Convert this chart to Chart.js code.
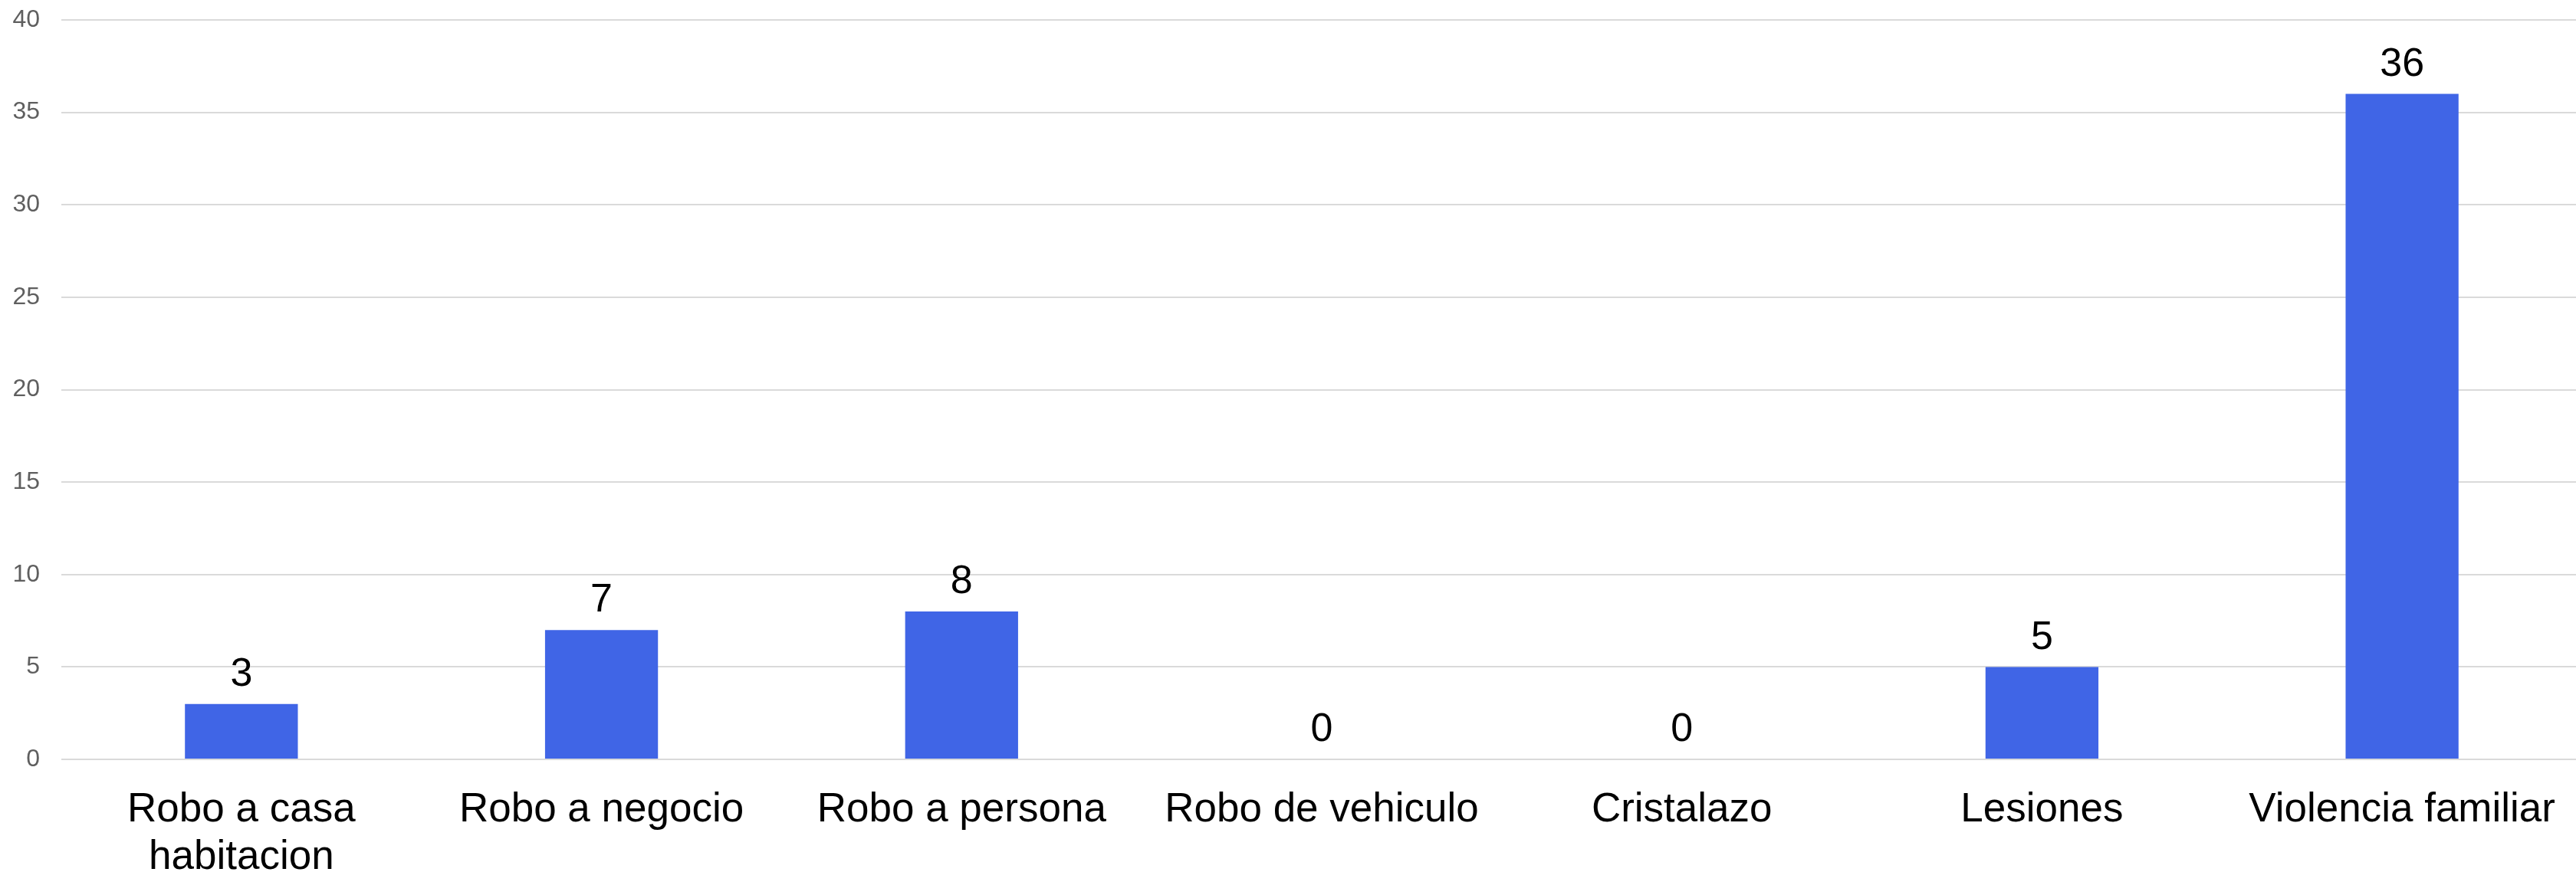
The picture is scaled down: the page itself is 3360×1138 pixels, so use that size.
<!DOCTYPE html>
<html>
<head>
<meta charset="utf-8">
<script src="https://cdn.jsdelivr.net/npm/chart.js@4"></script>
<style>
    html, body { margin: 0; padding: 0; background: #fff; overflow: hidden; }
    /* the original plot runs a few px past the right edge */
    #wrap { width: 3368px; height: 1138px; }
</style>
</head>
<body>
<div id="wrap"><canvas id="crimeChart"></canvas></div>
<script>
// Data
const categories = [
    ['Robo a casa', 'habitacion'],
    'Robo a negocio',
    'Robo a persona',
    'Robo de vehiculo',
    'Cristalazo',
    'Lesiones',
    'Violencia familiar'
];
const counts = [3, 7, 8, 0, 0, 5, 36];
const yTicks = [0, 5, 10, 15, 20, 25, 30, 35, 40];

const barColor = '#4065e6';
const fontFamily = "'Liberation Sans', Arial, sans-serif";

// draws the value above each bar
const valueLabels = {
    id: 'valueLabels',
    afterDatasetsDraw(chart) {
        const ctx = chart.ctx;
        const meta = chart.getDatasetMeta(0);
        ctx.save();
        ctx.font = `52px ${fontFamily}`;
        ctx.fillStyle = '#000';
        ctx.textAlign = 'center';
        ctx.textBaseline = 'bottom';
        meta.data.forEach((bar, i) => {
            ctx.fillText(String(counts[i]), bar.x, bar.y - 12);
        });
        ctx.restore();
    }
};

new Chart(document.getElementById('crimeChart'), {
    type: 'bar',
    data: {
        labels: categories,
        datasets: [{
            data: counts,
            backgroundColor: barColor,
            barPercentage: 0.3136,
            categoryPercentage: 1
        }]
    },
    options: {
        responsive: true,
        maintainAspectRatio: false,
        animation: false,
        layout: {
            padding: { left: 16, top: 26, right: 0, bottom: 0 }
        },
        plugins: {
            legend: { display: false },
            tooltip: { enabled: false }
        },
        scales: {
            y: {
                min: 0,
                max: 40,
                afterBuildTicks: axis => {
                    axis.ticks = yTicks.map(v => ({ value: v }));
                },
                afterFit: axis => {
                    axis.width = 64;
                    axis.paddingTop = 0;
                    axis.paddingBottom = 0;
                },
                border: { display: false },
                grid: {
                    color: '#dadada',
                    lineWidth: 2,
                    drawTicks: false
                },
                ticks: {
                    padding: 28,
                    color: '#5f5f5f',
                    font: { family: fontFamily, size: 32 }
                }
            },
            x: {
                afterFit: axis => {
                    axis.height = 147;
                    axis.paddingLeft = 0;
                    axis.paddingRight = 0;
                },
                border: { display: false },
                grid: { display: false, drawTicks: false },
                ticks: {
                    padding: 35,
                    color: '#000',
                    maxRotation: 0,
                    autoSkip: false,
                    font: { family: fontFamily, size: 53, lineHeight: 1.17 }
                }
            }
        }
    },
    plugins: [valueLabels]
});
</script>
</body>
</html>
